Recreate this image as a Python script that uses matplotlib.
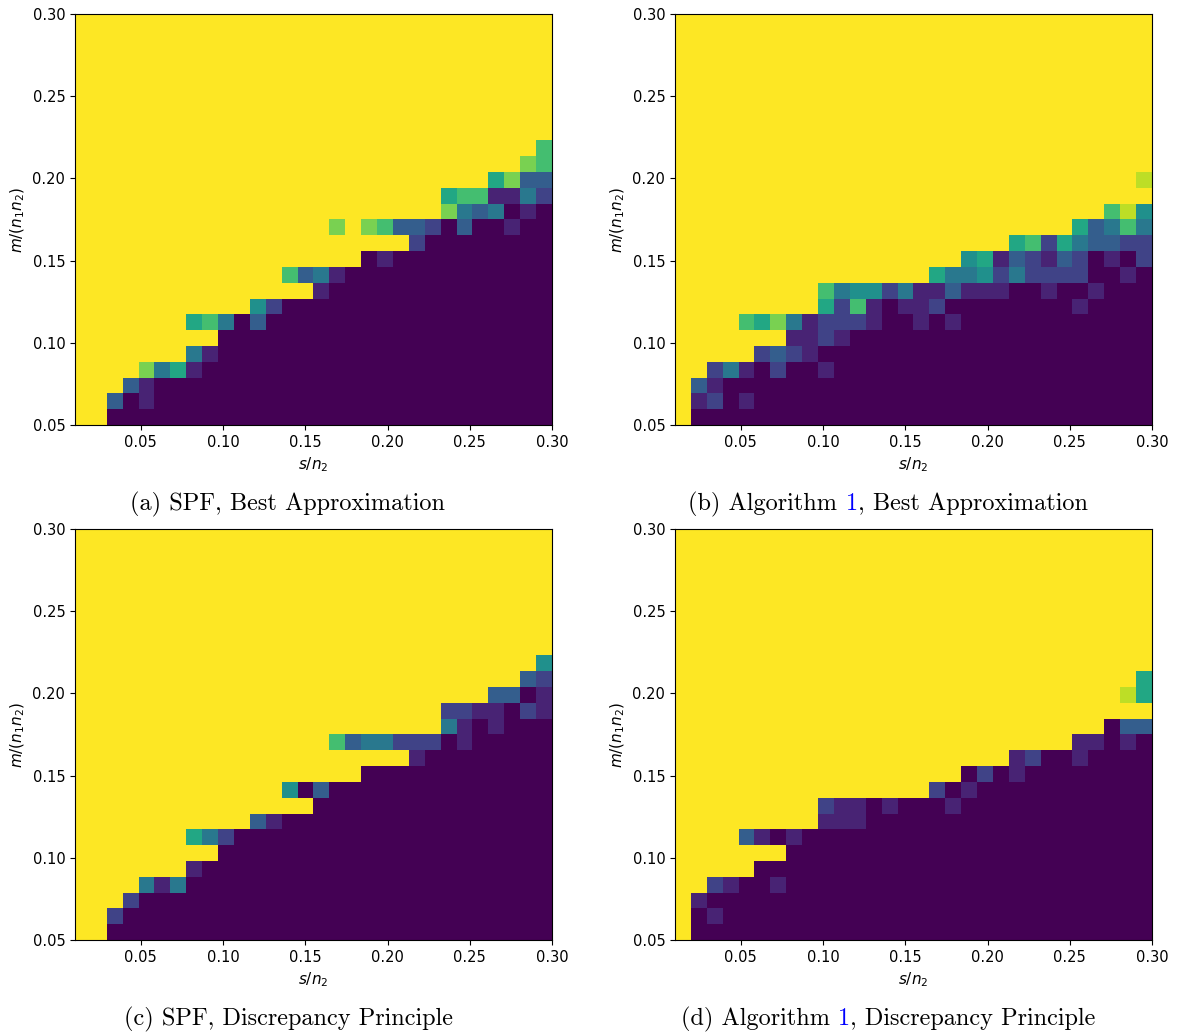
import numpy as np
import matplotlib
matplotlib.use('Agg')
import matplotlib.pyplot as plt

W, H = 1178, 1034

# ============ 坐标范围 ============
s_min, s_max = 0.01, 0.30      # s/n2
m_min, m_max = 0.05, 0.30      # m/(n1 n2)
xticks = [0.05, 0.10, 0.15, 0.20, 0.25, 0.30]
yticks = [0.05, 0.10, 0.15, 0.20, 0.25, 0.30]

# 成功率网格: 每行从 m=0.30 (上) 到 m=0.05 (下), 每列 s/n2 = 0.01 ... 0.30
# 数字 = 十分之几, X = 1.0
spf_best = [
    "XXXXX XXXXX XXXXX XXXXX XXXXX XXXXX",
    "XXXXX XXXXX XXXXX XXXXX XXXXX XXXXX",
    "XXXXX XXXXX XXXXX XXXXX XXXXX XXXXX",
    "XXXXX XXXXX XXXXX XXXXX XXXXX XXXXX",
    "XXXXX XXXXX XXXXX XXXXX XXXXX XXXXX",
    "XXXXX XXXXX XXXXX XXXXX XXXXX XXXXX",
    "XXXXX XXXXX XXXXX XXXXX XXXXX XXXXX",
    "XXXXX XXXXX XXXXX XXXXX XXXXX XXXXX",
    "XXXXX XXXXX XXXXX XXXXX XXXXX XXXX7",
    "XXXXX XXXXX XXXXX XXXXX XXXXX XXX87",
    "XXXXX XXXXX XXXXX XXXXX XXXXX X6833",
    "XXXXX XXXXX XXXXX XXXXX XXX67 71142",
    "XXXXX XXXXX XXXXX XXXXX XXX84 34010",
    "XXXXX XXXXX XXXXX X8X87 33203 00100",
    "XXXXX XXXXX XXXXX XXXXX X2000 00000",
    "XXXXX XXXXX XXXXX XXX01 00000 00000",
    "XXXXX XXXXX XXX73 41000 00000 00000",
    "XXXXX XXXXX XXXXX 10000 00000 00000",
    "XXXXX XXXXX X5200 00000 00000 00000",
    "XXXXX XX674 03000 00000 00000 00000",
    "XXXXX XXXX0 00000 00000 00000 00000",
    "XXXXX XX410 00000 00000 00000 00000",
    "XXXX8 46100 00000 00000 00000 00000",
    "XXX31 00000 00000 00000 00000 00000",
    "XX301 00000 00000 00000 00000 00000",
    "XX000 00000 00000 00000 00000 00000",
]

alg_best = [
    "XXXXX XXXXX XXXXX XXXXX XXXXX XXXXX",
    "XXXXX XXXXX XXXXX XXXXX XXXXX XXXXX",
    "XXXXX XXXXX XXXXX XXXXX XXXXX XXXXX",
    "XXXXX XXXXX XXXXX XXXXX XXXXX XXXXX",
    "XXXXX XXXXX XXXXX XXXXX XXXXX XXXXX",
    "XXXXX XXXXX XXXXX XXXXX XXXXX XXXXX",
    "XXXXX XXXXX XXXXX XXXXX XXXXX XXXXX",
    "XXXXX XXXXX XXXXX XXXXX XXXXX XXXXX",
    "XXXXX XXXXX XXXXX XXXXX XXXXX XXXXX",
    "XXXXX XXXXX XXXXX XXXXX XXXXX XXXXX",
    "XXXXX XXXXX XXXXX XXXXX XXXXX XXXX9",
    "XXXXX XXXXX XXXXX XXXXX XXXXX XXXXX",
    "XXXXX XXXXX XXXXX XXXXX XXXXX XX795",
    "XXXXX XXXXX XXXXX XXXXX XXXXX 63474",
    "XXXXX XXXXX XXXXX XXXXX X6726 43322",
    "XXXXX XXXXX XXXXX XXX56 13213 20102",
    "XXXXX XXXXX XXXXX X6445 24222 20010",
    "XXXXX XXXX7 45524 11311 10010 01000",
    "XXXXX XXXX6 27101 12000 00000 10000",
    "XXXX7 68412 22100 10100 00000 00000",
    "XXXXX XX112 10000 00000 00000 00000",
    "XXXXX 23210 00000 00000 00000 00000",
    "XX241 02001 00000 00000 00000 00000",
    "X3100 00000 00000 00000 00000 00000",
    "X1201 00000 00000 00000 00000 00000",
    "X0000 00000 00000 00000 00000 00000",
]

spf_disc = [
    "XXXXX XXXXX XXXXX XXXXX XXXXX XXXXX",
    "XXXXX XXXXX XXXXX XXXXX XXXXX XXXXX",
    "XXXXX XXXXX XXXXX XXXXX XXXXX XXXXX",
    "XXXXX XXXXX XXXXX XXXXX XXXXX XXXXX",
    "XXXXX XXXXX XXXXX XXXXX XXXXX XXXXX",
    "XXXXX XXXXX XXXXX XXXXX XXXXX XXXXX",
    "XXXXX XXXXX XXXXX XXXXX XXXXX XXXXX",
    "XXXXX XXXXX XXXXX XXXXX XXXXX XXXXX",
    "XXXXX XXXXX XXXXX XXXXX XXXXX XXXX5",
    "XXXXX XXXXX XXXXX XXXXX XXXXX XXX32",
    "XXXXX XXXXX XXXXX XXXXX XXXXX X3301",
    "XXXXX XXXXX XXXXX XXXXX XXX22 11021",
    "XXXXX XXXXX XXXXX XXXXX XXX41 01000",
    "XXXXX XXXXX XXXXX X7344 22201 00000",
    "XXXXX XXXXX XXXXX XXXXX X1000 00000",
    "XXXXX XXXXX XXXXX XXX00 00000 00000",
    "XXXXX XXXXX XXX50 30000 00000 00000",
    "XXXXX XXXXX XXXXX 00000 00000 00000",
    "XXXXX XXXXX X3100 00000 00000 00000",
    "XXXXX XX642 00000 00000 00000 00000",
    "XXXXX XXXX0 00000 00000 00000 00000",
    "XXXXX XX100 00000 00000 00000 00000",
    "XXXX4 14000 00000 00000 00000 00000",
    "XXX20 00000 00000 00000 00000 00000",
    "XX200 00000 00000 00000 00000 00000",
    "XX000 00000 00000 00000 00000 00000",
]

alg_disc = [
    "XXXXX XXXXX XXXXX XXXXX XXXXX XXXXX",
    "XXXXX XXXXX XXXXX XXXXX XXXXX XXXXX",
    "XXXXX XXXXX XXXXX XXXXX XXXXX XXXXX",
    "XXXXX XXXXX XXXXX XXXXX XXXXX XXXXX",
    "XXXXX XXXXX XXXXX XXXXX XXXXX XXXXX",
    "XXXXX XXXXX XXXXX XXXXX XXXXX XXXXX",
    "XXXXX XXXXX XXXXX XXXXX XXXXX XXXXX",
    "XXXXX XXXXX XXXXX XXXXX XXXXX XXXXX",
    "XXXXX XXXXX XXXXX XXXXX XXXXX XXXXX",
    "XXXXX XXXXX XXXXX XXXXX XXXXX XXXX6",
    "XXXXX XXXXX XXXXX XXXXX XXXXX XXX96",
    "XXXXX XXXXX XXXXX XXXXX XXXXX XXXXX",
    "XXXXX XXXXX XXXXX XXXXX XXXXX XX033",
    "XXXXX XXXXX XXXXX XXXXX XXXXX 11010",
    "XXXXX XXXXX XXXXX XXXXX X1200 10000",
    "XXXXX XXXXX XXXXX XXX02 01000 00000",
    "XXXXX XXXXX XXXXX X2010 00000 00000",
    "XXXXX XXXX2 11010 00100 00000 00000",
    "XXXXX XXXX1 11000 00000 00000 00000",
    "XXXX3 10100 00000 00000 00000 00000",
    "XXXXX XX000 00000 00000 00000 00000",
    "XXXXX 00000 00000 00000 00000 00000",
    "XX210 01000 00000 00000 00000 00000",
    "X1000 00000 00000 00000 00000 00000",
    "X0100 00000 00000 00000 00000 00000",
    "X0000 00000 00000 00000 00000 00000",
]

captions = [
    [("(a) SPF, Best Approximation", 'black')],
    [("(b) Algorithm", 'black'), ("1", 'blue'), (", Best Approximation", 'black')],
    [("(c) SPF, Discrepancy Principle", 'black')],
    [("(d) Algorithm", 'black'), ("1", 'blue'), (", Discrepancy Principle", 'black')],
]


def to_grid(rows):
    grid = []
    for r in rows:
        r = r.replace(' ', '')
        assert len(r) == 30, r
        grid.append([1.0 if ch == 'X' else int(ch) / 10 for ch in r])
    return np.array(grid)


def px_box(l, t, r, b):
    return [l / W, 1 - b / H, (r - l) / W, (b - t) / H]


fig = plt.figure(figsize=(W / 100, H / 100), dpi=100)

boxes = [px_box(75, 14, 552, 425), px_box(675, 14, 1152, 425),
         px_box(75, 529, 552, 940), px_box(675, 529, 1152, 940)]
panels = [spf_best, alg_best, spf_disc, alg_disc]

for box, rows in zip(boxes, panels):
    ax = fig.add_axes(box)
    ax.imshow(to_grid(rows), cmap='viridis', vmin=0, vmax=1, aspect='auto',
              interpolation='nearest', extent=(s_min, s_max, m_min, m_max))
    ax.set_xticks(xticks)
    ax.set_yticks(yticks)
    ax.set_xticklabels([f'{v:.2f}' for v in xticks])
    ax.set_yticklabels([f'{v:.2f}' for v in yticks])
    ax.tick_params(labelsize=10.5)
    ax.set_xlabel('$s/n_2$', fontsize=11)
    ax.set_ylabel('$m/(n_1n_2)$', fontsize=11)

# ============ 子图标题 (LaTeX 风格) ============
renderer = fig.canvas.get_renderer()
cap_fs = 17.5
space_px = 0.333 * cap_fs * 100 / 72
cap_pos = [(288, 510), (888, 510), (288, 1025), (888, 1025)]

for (xc, yb), parts in zip(cap_pos, captions):
    texts = []
    for s, col in parts:
        t = fig.text(0, 1 - yb / H, s, color=col, fontsize=cap_fs,
                     family='cmr10', ha='left', va='baseline')
        texts.append(t)
    widths = [t.get_window_extent(renderer).width for t in texts]
    gaps = [space_px if i == 1 else 0 for i in range(len(texts))]
    total = sum(widths) + sum(gaps)
    x = xc - total / 2
    for t, w, g in zip(texts, widths, gaps):
        x += g
        t.set_x(x / W)
        x += w

fig.savefig('out.png', dpi=100)
